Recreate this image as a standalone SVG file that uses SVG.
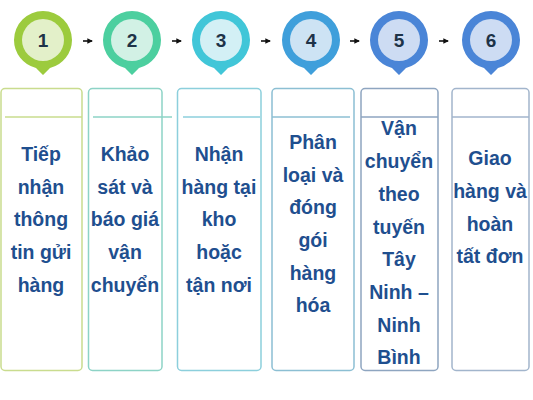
<svg xmlns="http://www.w3.org/2000/svg" width="533" height="400" viewBox="0 0 533 400">
<defs>
<style>
.t{font-family:"Liberation Sans",Arial,sans-serif;font-weight:bold;font-size:19.5px;fill:#1f4f8f;text-anchor:middle}
.n{font-family:"Liberation Sans",Arial,sans-serif;font-weight:bold;font-size:19px;fill:#1e3348;text-anchor:middle}
.box{fill:#fff;stroke-width:1.5}
.ar{stroke:#111;stroke-width:1.6;fill:none}
</style>
<marker id="ah" viewBox="0 0 6 6" refX="5" refY="3" markerWidth="3.5" markerHeight="3.5" orient="auto"><path d="M0,0L6,3L0,6z" fill="#111"/></marker>
<g id="pin"><path d="M-29,0A29,29 0 1 1 29,0A29,29 0 0 1 7,28L0,35L-7,28A29,29 0 0 1 -29,0z"/></g>
</defs>
<rect width="533" height="400" fill="#fff"/>
<g id="connectors">
<line class="ar" x1="83" y1="41" x2="92" y2="41" marker-end="url(#ah)"/>
<line class="ar" x1="172" y1="41" x2="181" y2="41" marker-end="url(#ah)"/>
<line class="ar" x1="261" y1="41" x2="270" y2="41" marker-end="url(#ah)"/>
<line class="ar" x1="350" y1="41" x2="359" y2="41" marker-end="url(#ah)"/>
<line class="ar" x1="439" y1="41" x2="448" y2="41" marker-end="url(#ah)"/>
</g>
<g id="node1">
<use href="#pin" x="43" y="40" fill="#9ccb3d"/>
<circle cx="43" cy="40" r="21" fill="#e3f0c9"/>
<text class="n" x="43" y="47">1</text>
<rect class="box" x="1" y="88.5" width="81" height="282" rx="4" stroke="#c9dc8e"/>
<line x1="5" y1="117" x2="82" y2="117" stroke="#c9dc8e" stroke-width="1.5"/>
<text class="t" x="41"><tspan x="41" y="161">Tiếp</tspan><tspan x="41" y="194">nhận</tspan><tspan x="41" y="226">thông</tspan><tspan x="41" y="259">tin gửi</tspan><tspan x="41" y="292">hàng</tspan></text>
</g>
<g id="node2">
<use href="#pin" x="132" y="40" fill="#4ccf9f"/>
<circle cx="132" cy="40" r="21" fill="#d2f1e5"/>
<text class="n" x="132" y="47">2</text>
<rect class="box" x="88.5" y="88.5" width="73.5" height="282" rx="4" stroke="#8dd3c6"/>
<line x1="93" y1="117" x2="172" y2="117" stroke="#8dd3c6" stroke-width="1.5"/>
<text class="t"><tspan x="125" y="161">Khảo</tspan><tspan x="125" y="194">sát và</tspan><tspan x="125" y="226">báo giá</tspan><tspan x="125" y="259">vận</tspan><tspan x="125" y="292">chuyển</tspan></text>
</g>
<g id="node3">
<use href="#pin" x="221" y="40" fill="#41c6d8"/>
<circle cx="221" cy="40" r="21" fill="#d3f0f5"/>
<text class="n" x="221" y="47">3</text>
<rect class="box" x="177.5" y="88.5" width="83.5" height="282" rx="4" stroke="#8ccfdc"/>
<line x1="183" y1="117" x2="260" y2="117" stroke="#8ccfdc" stroke-width="1.5"/>
<text class="t"><tspan x="219" y="161">Nhận</tspan><tspan x="219" y="194">hàng tại</tspan><tspan x="219" y="226">kho</tspan><tspan x="219" y="259">hoặc</tspan><tspan x="219" y="292">tận nơi</tspan></text>
</g>
<g id="node4">
<use href="#pin" x="311" y="40" fill="#3f9fdb"/>
<circle cx="311" cy="40" r="21" fill="#cde3f4"/>
<text class="n" x="311" y="47">4</text>
<rect class="box" x="272" y="88.5" width="82" height="282" rx="4" stroke="#8cbfd3"/>
<line x1="272" y1="117" x2="350" y2="117" stroke="#8cbfd3" stroke-width="1.5"/>
<text class="t"><tspan x="313" y="149">Phân</tspan><tspan x="313" y="182">loại và</tspan><tspan x="313" y="214">đóng</tspan><tspan x="313" y="247">gói</tspan><tspan x="313" y="280">hàng</tspan><tspan x="313" y="312">hóa</tspan></text>
</g>
<g id="node5">
<use href="#pin" x="399" y="40" fill="#4a85d7"/>
<circle cx="399" cy="40" r="21" fill="#cddcf3"/>
<text class="n" x="399" y="47">5</text>
<rect class="box" x="361" y="88.5" width="77" height="282" rx="4" stroke="#8ea5c0"/>
<line x1="361" y1="117" x2="438" y2="117" stroke="#8ea5c0" stroke-width="1.5"/>
<text class="t"><tspan x="399" y="135">Vận</tspan><tspan x="399" y="168">chuyển</tspan><tspan x="399" y="201">theo</tspan><tspan x="399" y="234">tuyến</tspan><tspan x="399" y="266">Tây</tspan><tspan x="399" y="299">Ninh –</tspan><tspan x="399" y="332">Ninh</tspan><tspan x="399" y="364">Bình</tspan></text>
</g>
<g id="node6">
<use href="#pin" x="491" y="40" fill="#4a85d7"/>
<circle cx="491" cy="40" r="21" fill="#cddcf3"/>
<text class="n" x="491" y="47">6</text>
<rect class="box" x="452" y="88.5" width="77" height="282" rx="4" stroke="#a2b5cc"/>
<line x1="452" y1="117" x2="529" y2="117" stroke="#a2b5cc" stroke-width="1.5"/>
<text class="t"><tspan x="490" y="165">Giao</tspan><tspan x="490" y="198">hàng và</tspan><tspan x="490" y="231">hoàn</tspan><tspan x="490" y="263">tất đơn</tspan></text>
</g>
</svg>
